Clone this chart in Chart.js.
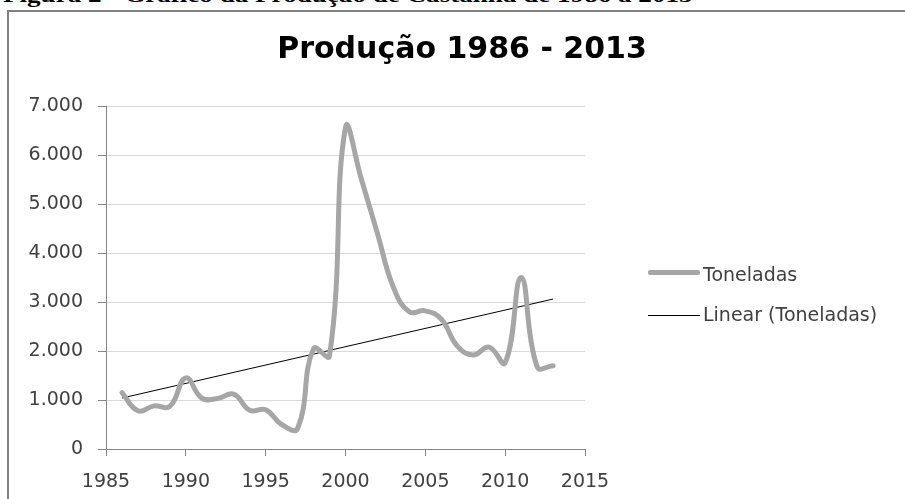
<!DOCTYPE html>
<html>
<head>
<meta charset="utf-8">
<script src="https://cdn.jsdelivr.net/npm/chart.js@4/dist/chart.umd.min.js"></script>
<style>
  html, body { margin:0; padding:0; background:#fff; width:905px; height:499px; overflow:hidden; }
  #caption { position:absolute; left:3px; top:-15.5px; font:bold 21px "Liberation Serif", serif; line-height:21px; color:#000; white-space:nowrap; transform:scaleX(1.29); transform-origin:0 0; }
  #frame { position:absolute; left:7px; top:10px; width:1000px; height:600px; border-left:2.5px solid #808080; border-top:2.5px solid #808080; box-sizing:border-box; }
  #wrap { position:absolute; left:0; top:0; width:905px; height:499px; }
  #title { position:absolute; left:462px; top:33px; transform:translateX(-50%); font:bold 30px "DejaVu Sans", sans-serif; line-height:30px; color:#000; white-space:nowrap; }
  .leg { position:absolute; left:703px; font:19px "DejaVu Sans", sans-serif; line-height:19px; color:#404040; white-space:nowrap; }
  .legline { position:absolute; left:648px; width:52px; }
</style>
</head>
<body>
<div id="caption">Figura 2 - Gráfico da Produção de Castanha de 1986 a 2013</div>
<div id="frame"></div>
<div id="wrap"><canvas id="c" width="905" height="499"></canvas></div>
<div id="title">Produção 1986 - 2013</div>
<div class="legline" style="top:269.5px;height:5px;background:#a6a6a6;border-radius:2px;"></div>
<div class="leg" style="top:264.6px;">Toneladas</div>
<div class="legline" style="top:315px;height:1px;background:#000;"></div>
<div class="leg" style="top:304.6px;">Linear (Toneladas)</div>
<script>
const years = [1986,1987,1988,1989,1990,1991,1992,1993,1994,1995,1996,1997,1998,1999,2000,2001,2002,2003,2004,2005,2006,2007,2008,2009,2010,2011,2012,2013];
const toneladas = [1150,780,880,870,1450,1040,1030,1120,790,800,500,420,2050,1900,6560,5500,4400,3300,2800,2820,2650,2100,1920,2080,1760,3500,1680,1700];
const trendYears = [1986, 2013];
const trendValues = [1040, 3060];
const xTicks = [1985, 2015, 5];
const yTicks = [0, 7000, 1000];

const fmt = v => v === 0 ? '0' : (Math.round(v/1000)) + '.000';

new Chart(document.getElementById('c'), {
  type: 'line',
  data: {
    datasets: [
      {
        label: 'Toneladas',
        data: years.map((y,i) => ({x:y, y:toneladas[i]})),
        borderColor: '#a6a6a6',
        borderWidth: 5,
        pointRadius: 0,
        tension: 0.45,
        fill: false,
        borderCapStyle: 'round',
        borderJoinStyle: 'round'
      },
      {
        label: 'Linear (Toneladas)',
        data: trendYears.map((y,i) => ({x:y, y:trendValues[i]})),
        borderColor: '#000',
        borderWidth: 1,
        pointRadius: 0,
        tension: 0,
        fill: false
      }
    ]
  },
  options: {
    responsive: false,
    animation: false,
    devicePixelRatio: 1,
    layout: { padding: { left: 0, right: 320, top: 106, bottom: 0 } },
    plugins: { legend: { display: false }, title: { display: false }, tooltip: { enabled: false } },
    scales: {
      x: {
        type: 'linear',
        min: xTicks[0], max: xTicks[1],
        ticks: { stepSize: xTicks[2], color: '#404040', font: { family: 'DejaVu Sans', size: 19 }, padding: 15, maxRotation: 0, callback: v => String(v) },
        grid: { drawOnChartArea: false, drawTicks: true, tickLength: 7, tickColor: '#868686' },
        border: { color: '#868686', width: 1 },
        afterFit: s => { s.height = 50; }
      },
      y: {
        min: yTicks[0], max: yTicks[1],
        ticks: { stepSize: yTicks[2], color: '#404040', font: { family: 'DejaVu Sans', size: 19 }, padding: 15, callback: fmt },
        grid: { color: '#d9d9d9', lineWidth: 1, tickLength: 8, tickColor: '#868686' },
        border: { color: '#868686', width: 1 },
        afterFit: s => { s.width = 106; }
      }
    }
  }
});
</script>
</body>
</html>
